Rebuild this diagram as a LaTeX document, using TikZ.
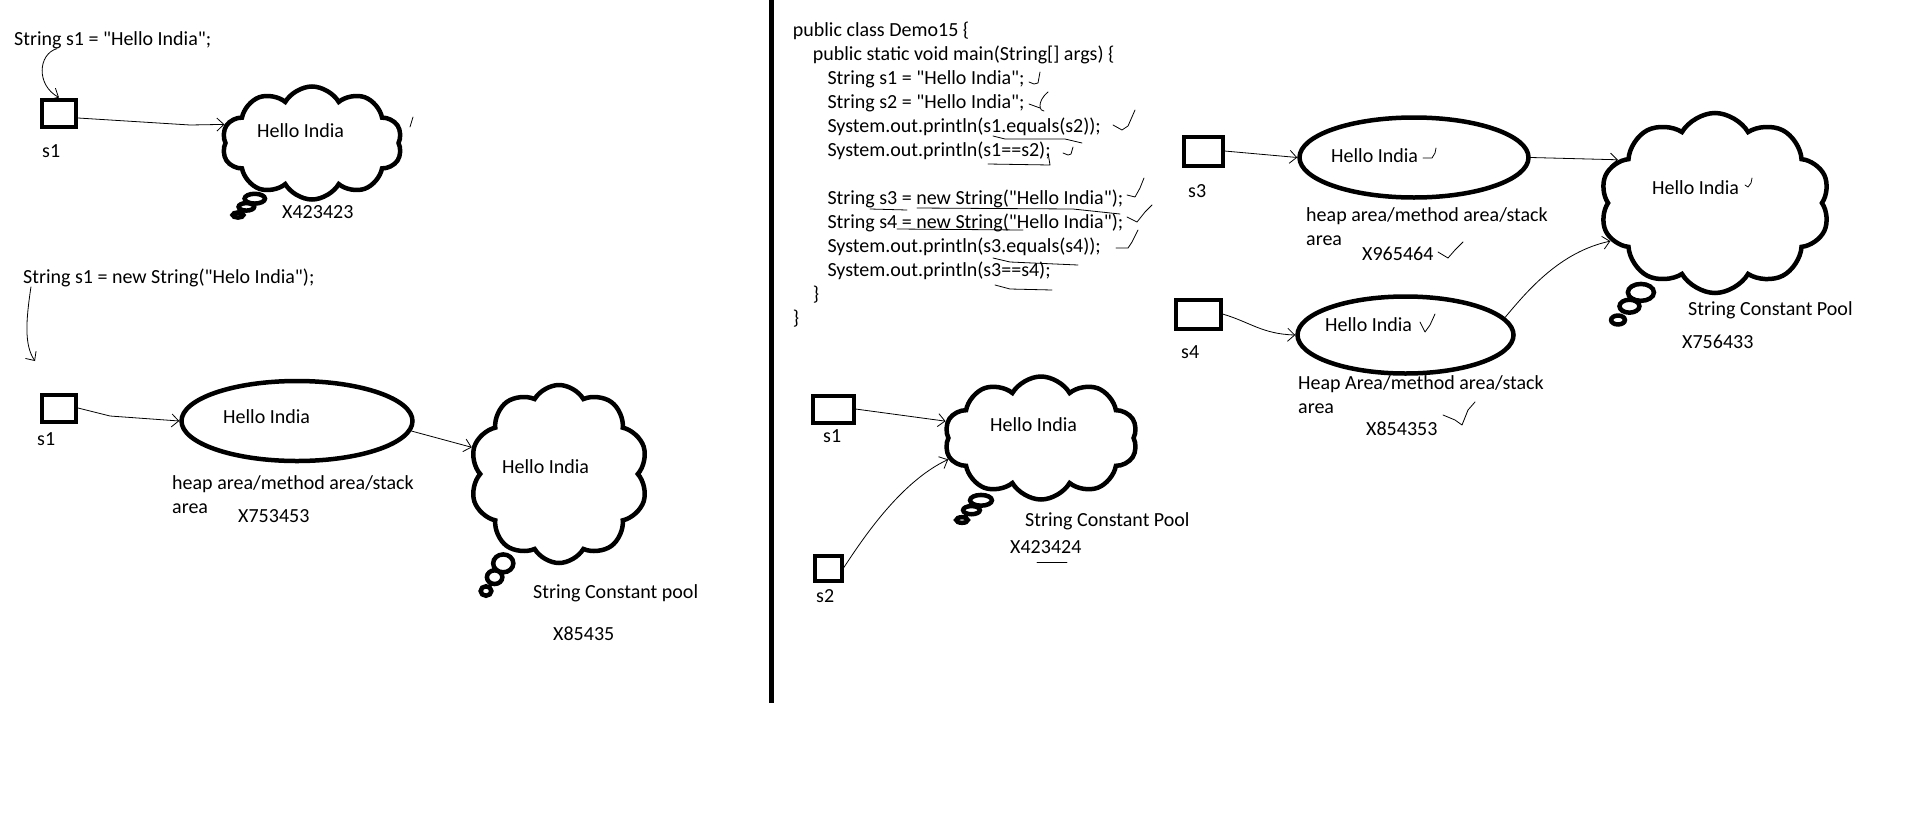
\documentclass[tikz,border=0pt]{standalone}
\usepackage{fontspec}
\setmainfont{Carlito}[Ligatures=TeXOff]
\usetikzlibrary{positioning}
\usetikzlibrary{shapes,arrows.meta}

\begin{document}
\begin{tikzpicture}[x=1pt,y=-1pt,
  every node/.style={font=\fontsize{20}{24}\selectfont,inner sep=0pt},
  txt/.style={anchor=base west},
  refbox/.style={draw,line width=4pt,minimum width=#1,minimum height=27pt},
  refbox/.default=34pt,
  heap/.style={draw,ellipse,line width=4.5pt,minimum width=230pt,minimum height=80pt},
  pool/.style={draw,cloud callout,cloud puffs=10,cloud puff arc=120,cloud ignores aspect,
    line width=4.5pt,callout pointer segments=3,
    callout pointer start size=.14 of callout,callout pointer end size=.06 of callout},
  link/.style={line width=0.8pt,-{Straight Barb[length=7pt,width=13pt]}},
  scribble/.style={line width=0.8pt,line cap=round,line join=round}]
\useasboundingbox (0,0) rectangle (1913,825);

% literal: String s1 = "Hello India";
\node[txt] (lit code) at (14,45) {String s1 = "Hello India";};
\node[refbox] (lit box) at (59,113) {};
\node[txt] (lit s1) at (42,157) {s1};
\node[pool,minimum width=180pt,minimum height=113pt,callout absolute pointer={(238,215)}] (lit pool) at (312,143) {};
\node[txt] (lit text) at (257,137) {Hello India};
\node[txt] (lit addr) at (282,218) {X423423};
\draw[link] ([xshift=43pt]lit code.south west) .. controls (38,54) and (36,85) .. (lit box.north);
\draw[link] ([yshift=-5pt]lit box.east) -- (190,125) -- (lit pool.168);
\draw[scribble] (413,117) -- (410,127);

% new String("Helo India")
\node[txt] (new code) at (23,283) {String s1 = new String("Helo India");};
\coordinate (new hint) at (35,361);
\node[refbox] (new box) at (59,408) {};
\node[txt] (new s1) at (37,445) {s1};
\node[heap,minimum width=231pt] (new heap) at (297,421) {};
\node[txt] (new text) at (223,423) {Hello India};
\node[txt,align=left] (new area) at (172,513) {heap area/method area/stack\\area};
\node[txt] (new addr) at (238,522) {X753453};
\node[pool,minimum width=178pt,minimum height=178pt,callout absolute pointer={(486,591)}] (new pool) at (559,474) {};
\node[txt] (new pool text) at (502,473) {Hello India};
\node[txt] (new pool name) at (533,598) {String Constant pool};
\node[txt] (new pool addr) at (553,640) {X85435};
\draw[link] ([xshift=8pt]new code.south west) .. controls (26,320) and (24,345) .. (new hint);
\draw[link] (new box.east) -- (110,416) -- (new heap.west);
\draw[link] (new heap.-5) -- (new pool.163);

\draw[line width=5pt] (771.5,0) -- (771.5,703);

% Demo15 (the node's base is its last line)
\node[txt,align=left] (demo) at (792.7,324.7) {public class Demo15 \{\\
\hspace*{20pt}public static void main(String[] args) \{\\
\hspace*{34.6pt}String s1 = "Hello India";\\
\hspace*{34.6pt}String s2 = "Hello India";\\
\hspace*{34.6pt}System.out.println(s1.equals(s2));\\
\hspace*{34.6pt}System.out.println(s1==s2);\\[24pt]
\hspace*{34.6pt}String s3 = new String("Hello India");\\
\hspace*{34.6pt}String s4 = new String("Hello India");\\
\hspace*{34.6pt}System.out.println(s3.equals(s4));\\
\hspace*{34.6pt}System.out.println(s3==s4);\\
\hspace*{20pt}\}\\
\}};
% ticks and underlines on the code
\draw[scribble] (1029,82) -- (1034,84) -- (1038,83) -- (1040,72);
\draw[scribble] (1029,104) -- (1040,108) (1048,92) .. controls (1036,102) and (1040,112) .. (1044,111);
\draw[scribble] (1113,125) -- (1122,130) -- (1128,126) -- (1135,110);
\draw[scribble] (993,136) -- (1005,139) -- (1065,139) -- (1082,143);
\draw[scribble] (1063,153) -- (1068,155) -- (1071,154) -- (1073,147);
\draw[scribble] (988,164) -- (1050,165) -- (1048,153);
\draw[scribble] (1127,195) -- (1135,197) -- (1140,188) -- (1144,178);
\draw[scribble] (870,209) -- (907,210) (917,208) -- (1073,209) -- (1120,214);
\draw[scribble] (1127,217) -- (1137,222) -- (1145,212) -- (1152,205);
\draw[scribble] (897,229) -- (1023,230);
\draw[scribble] (1116,248) -- (1128,248) -- (1132,242) -- (1138,230);
\draw[scribble] (993,258) -- (1010,262) -- (1078,265);
\draw[scribble] (995,285) -- (1010,289) -- (1052,290);

% s1 and s2 share one literal
\node[refbox=41pt] (box s1) at (833,409) {};
\node[txt] (lbl s1) at (823,442) {s1};
\node[refbox=27pt,minimum height=25pt] (box s2) at (828,568) {};
\node[txt] (lbl s2) at (816,602) {s2};
\node[pool,minimum width=193pt,minimum height=123pt,callout absolute pointer={(962,520)}] (pool12) at (1041,438) {};
\node[txt] (pool12 text) at (990,431) {Hello India};
\node[txt] (pool12 name) at (1025,526) {String Constant Pool};
\node[txt] (pool12 addr) at (1010,553) {X423424};
\draw[link] (box s1.east) -- (pool12.170);
\draw[link] (box s2.east) .. controls (862,540) and (900,482) .. (pool12.193);
\draw[scribble] (1037,562) -- (1067,562);

% s3 and s4 on the heap
\node[refbox=39pt,minimum height=29pt] (box s3) at (1203,151) {};
\node[txt] (lbl s3) at (1188,197) {s3};
\node[heap,minimum width=229pt] (heap s3) at (1414,157.5) {};
\node[txt] (heap s3 text) at (1331,162) {Hello India};
\node[txt,align=left] (heap s3 area) at (1306,245) {heap area/method area/stack\\area};
\node[txt] (heap s3 addr) at (1362,260) {X965464};
\node[refbox=45pt,minimum height=29pt] (box s4) at (1198,314) {};
\node[txt] (lbl s4) at (1181,358) {s4};
\node[heap,minimum width=216pt,minimum height=77pt] (heap s4) at (1405.5,335) {};
\node[txt] (heap s4 text) at (1325,331) {Hello India};
\node[txt,align=left] (heap s4 area) at (1298,413) {Heap Area/method area/stack\\area};
\node[txt] (heap s4 addr) at (1366,435) {X854353};
\node[pool,minimum width=230pt,minimum height=180pt,callout absolute pointer={(1618,320)}] (pool34) at (1715,203) {};
\node[txt] (pool34 text) at (1652,194) {Hello India};
\node[txt] (pool34 name) at (1688,315) {String Constant Pool};
\node[txt] (pool34 addr) at (1682,348) {X756433};
\draw[link] (box s3.east) -- (heap s3.west);
\draw[link] (box s4.east) .. controls (1250,322) and (1262,334) .. (heap s4.west);
\draw[link] (heap s3.east) -- (pool34.156);
\draw[link] (heap s4.10) .. controls (1528,290) and (1560,252) .. (pool34.200);
\draw[scribble] (1423,158) -- (1432,158) -- (1435,153) -- (1436,148);
\draw[scribble] (1420,322) -- (1425,332) -- (1430,325) -- (1435,314);
\draw[scribble] (1438,252) -- (1448,258) -- (1455,250) -- (1463,242);
\draw[scribble] (1443,415) -- (1455,420) -- (1462,425) -- (1468,410) -- (1475,402);
\draw[scribble] (1745,185) -- (1748,187) -- (1751,183) -- (1752,178);
\end{tikzpicture}
\end{document}
